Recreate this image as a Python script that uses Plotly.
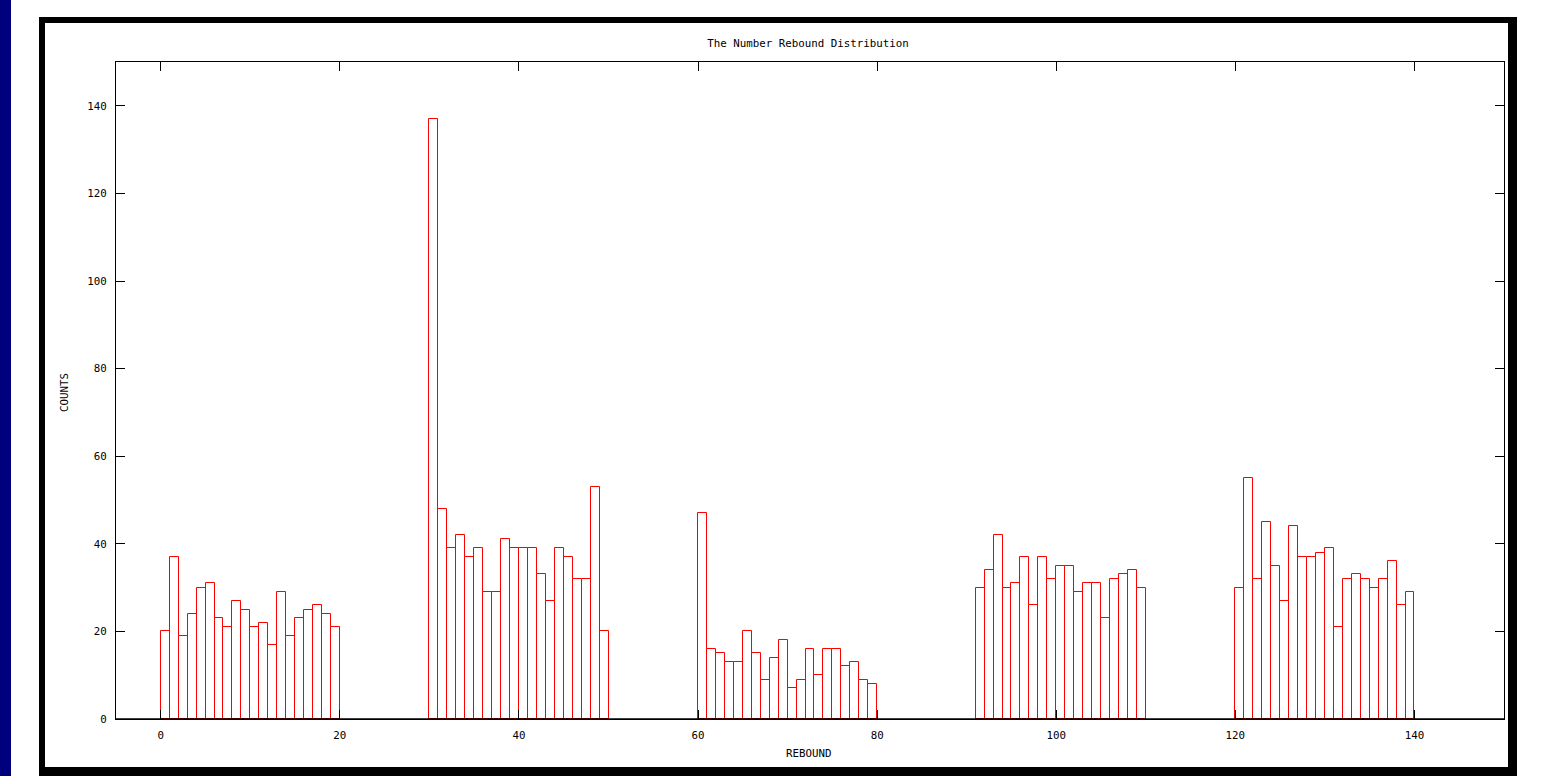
import plotly.graph_objects as go

# ---- data (bin left edges, bin width 1) ----
rebound_a = [0, 1, 2, 3, 4, 5, 6, 7, 8, 9, 10, 11, 12, 13, 14, 15, 16, 17, 18, 19]
counts_a = [20, 37, 19, 24, 30, 31, 23, 21, 27, 25, 21, 22, 17, 29, 19, 23, 25, 26, 24, 21]

rebound_b = [30, 31, 32, 33, 34, 35, 36, 37, 38, 39, 40, 41, 42, 43, 44, 45, 46, 47, 48, 49]
counts_b = [137, 48, 39, 42, 37, 39, 29, 29, 41, 39, 39, 39, 33, 27, 39, 37, 32, 32, 53, 20]

rebound_c = [60, 61, 62, 63, 64, 65, 66, 67, 68, 69, 70, 71, 72, 73, 74, 75, 76, 77, 78, 79]
counts_c = [47, 16, 15, 13, 13, 20, 15, 9, 14, 18, 7, 9, 16, 10, 16, 16, 12, 13, 9, 8]

rebound_d = [91, 92, 93, 94, 95, 96, 97, 98, 99, 100, 101, 102, 103, 104, 105, 106, 107, 108, 109]
counts_d = [30, 34, 42, 30, 31, 37, 26, 37, 32, 35, 35, 29, 31, 31, 23, 32, 33, 34, 30]

rebound_e = [120, 121, 122, 123, 124, 125, 126, 127, 128, 129, 130, 131, 132, 133, 134, 135, 136, 137, 138, 139]
counts_e = [30, 55, 32, 45, 35, 27, 44, 37, 37, 38, 39, 21, 32, 33, 32, 30, 32, 36, 26, 29]

x_ticks = [0, 20, 40, 60, 80, 100, 120, 140]
y_ticks = [0, 20, 40, 60, 80, 100, 120, 140]

title_text = "The Number Rebound Distribution"
x_title = "REBOUND"
y_title = "COUNTS"
corner_text = "3.0073   -12.0517"

rebound = rebound_a + rebound_b + rebound_c + rebound_d + rebound_e
counts = counts_a + counts_b + counts_c + counts_d + counts_e

# ---- layout geometry (pixels) ----
W, H = 1545, 776
PL, PR, PT, PB = 116, 1504, 62, 719
FONT = "DejaVu Sans Mono"
FS = 10.8


def px(x):
    return (x - PL) / (PR - PL)


def py(y):
    return (PB - y) / (PB - PT)


fig = go.Figure()
fig.add_trace(go.Bar(
    x=rebound, y=counts, width=1, offset=0,
    marker=dict(color="white", line=dict(color="#ff0000", width=1)),
    showlegend=False, hoverinfo="x+y",
))

# partially hidden corner readout (drawn as trace so frame can cover it)
fig.add_trace(go.Scatter(
    x=[-12.96], y=[-11.1], mode="text", text=[corner_text],
    textposition="middle right", cliponaxis=False,
    textfont=dict(family=FONT, size=FS, color="black"),
    showlegend=False, hoverinfo="skip",
))

shapes = []
# black baseline over the bar bottoms
shapes.append(dict(type="line", xref="paper", yref="paper", layer="above",
                   x0=0, x1=1, y0=0, y1=0, line=dict(color="black", width=1.5)))
# navy strip on the left
shapes.append(dict(type="rect", xref="paper", yref="paper", layer="above",
                   x0=px(0), x1=px(11), y0=py(H + 5), y1=py(-5),
                   fillcolor="#00007f", line=dict(width=0)))
# black frame pieces
for (x0, x1, y0, y1) in [(39, 1517, 17, 23), (39, 45, 17, H + 5),
                         (1508, 1517, 17, H + 5), (39, 1517, 767, H + 5)]:
    shapes.append(dict(type="rect", xref="paper", yref="paper", layer="above",
                       x0=px(x0), x1=px(x1), y0=py(y1), y1=py(y0),
                       fillcolor="black", line=dict(width=0)))

axis_common = dict(
    showline=True, linecolor="black", linewidth=1, mirror="ticks",
    ticks="inside", ticklen=9, tickwidth=1, tickcolor="black",
    showgrid=False, zeroline=False, layer="above traces",
    tickfont=dict(family=FONT, size=FS, color="black"),
)

fig.update_layout(
    width=W, height=H,
    margin=dict(l=PL, r=W - PR, t=PT, b=H - PB, pad=0),
    paper_bgcolor="white", plot_bgcolor="white",
    bargap=0,
    title=dict(text=title_text, x=px(808), xref="paper", xanchor="center",
               y=1 - 43 / H, yref="container", yanchor="middle",
               font=dict(family=FONT, size=FS, color="black")),
    xaxis=dict(range=[-5, 150], tickvals=x_ticks, ticklabelstandoff=6, **axis_common),
    yaxis=dict(range=[0, 150], tickvals=y_ticks, ticklabelstandoff=6, **axis_common),
    shapes=shapes,
    annotations=[
        dict(text=x_title, xref="paper", yref="paper", x=px(809), y=py(753),
             xanchor="center", yanchor="middle", showarrow=False,
             font=dict(family=FONT, size=FS, color="black")),
        dict(text=y_title, xref="paper", yref="paper", x=px(64), y=py(393),
             xanchor="center", yanchor="middle", showarrow=False, textangle=-90,
             font=dict(family=FONT, size=FS, color="black")),
    ],
    showlegend=False,
)

fig.write_html(
    "out.html",
    config={"displayModeBar": False},
    post_script="document.body.style.margin='0';document.body.style.overflow='hidden';",
)
